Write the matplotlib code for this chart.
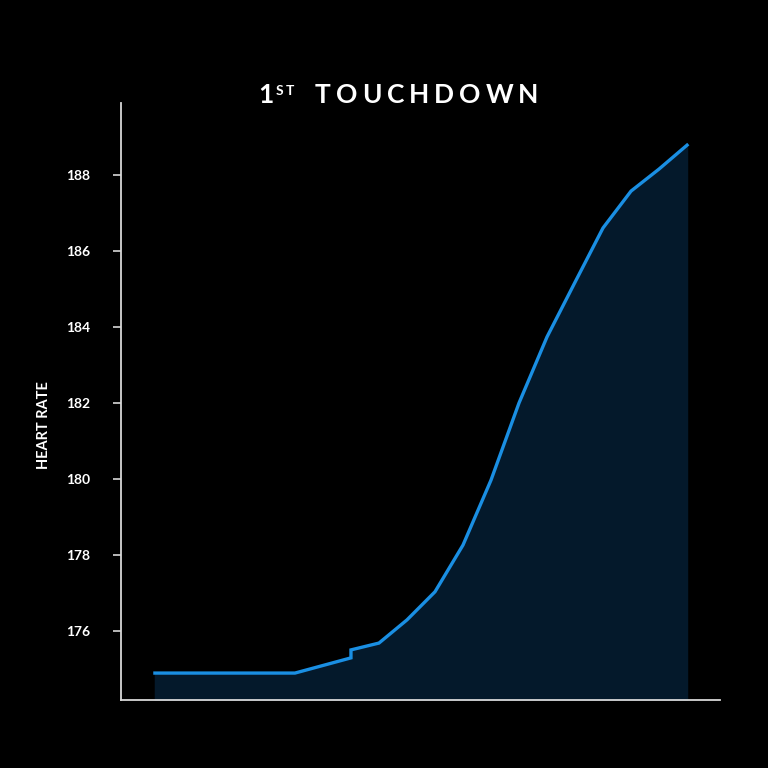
import matplotlib
matplotlib.use("Agg")
import matplotlib.pyplot as plt

# sample index (the step at index 7 has two values)
sample = [0, 1, 2, 3, 4, 5, 6, 7, 7, 8, 9, 10, 11, 12, 13, 14, 15, 16, 17, 18, 19]
heart_rate = [174.89, 174.89, 174.89, 174.89, 174.89, 174.89, 175.09, 175.29, 175.50,
              175.68, 176.29, 177.03, 178.26, 179.97, 182.0, 183.74, 185.18, 186.61,
              187.58, 188.16, 188.79]
yticks = [176, 178, 180, 182, 184, 186, 188]

plt.rcParams['font.family'] = ['Lato', 'DejaVu Sans']

fig = plt.figure(figsize=(7.68, 7.68), dpi=100, facecolor='black')
ax = fig.add_axes([0.1576, 0.0885, 0.78, 0.7774], facecolor='black')

ax.fill_between(sample, heart_rate, 174.18, color='#04192b', zorder=1)
ax.plot(sample, heart_rate, color='#1a8fe3', lw=2.4, solid_joinstyle='miter', zorder=2)

ax.set_xlim(-1.21, 20.18)
ax.set_ylim(174.18, 189.9)
ax.set_xticks([])
ax.set_yticks(yticks)
ax.set_yticklabels([str(t) for t in yticks], fontweight='bold', fontsize=10, color='white')
ax.tick_params(axis='y', colors='#d8d8d8', length=6, width=1.2, pad=16, labelcolor='white')

for s in ['top', 'right']:
    ax.spines[s].set_visible(False)
for s in ['left', 'bottom']:
    ax.spines[s].set_color('#d8d8d8')
    ax.spines[s].set_linewidth(1.3)

fig.text(43.5 / 768, 1 - 425 / 768, 'HEART RATE', rotation=90, ha='center', va='center',
         color='white', fontweight='bold', fontsize=10.5)

# title: spaced letters with a superscript
renderer = fig.canvas.get_renderer()


def spaced(x_px, y_px, text, size, tracking):
    for ch in text:
        t = fig.text(x_px / 768, 1 - y_px / 768, ch, color='white', fontweight='bold',
                     fontsize=size, va='baseline', ha='left')
        x_px += t.get_window_extent(renderer).width + tracking
    return x_px


spaced(258, 103, '1', 19, 0)
spaced(276, 95, 'ST', 10, 2)
spaced(315, 103, 'TOUCHDOWN', 19, 5)

fig.savefig('out.png', dpi=100, facecolor='black')
